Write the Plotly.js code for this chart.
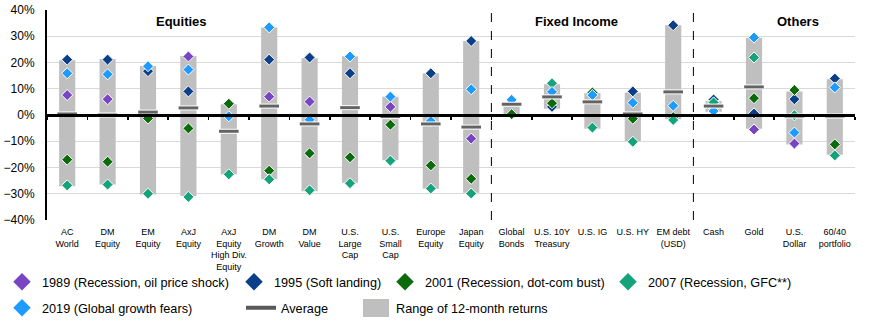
<!DOCTYPE html>
<html>
<head>
<meta charset="utf-8">
<script src="https://cdn.plot.ly/plotly-3.0.1.min.js"></script>
<style>html,body{margin:0;padding:0;background:#fff;}#chart{width:872px;height:326px;}</style>
</head>
<body>
<div id="chart"></div>
<script>
// ---- data (values in %) ----
const categories = ["AC World","DM Equity","EM Equity","AxJ Equity","AxJ Equity High Div. Equity","DM Growth","DM Value","U.S. Large Cap","U.S. Small Cap","Europe Equity","Japan Equity","Global Bonds","U.S. 10Y Treasury","U.S. IG","U.S. HY","EM debt (USD)","Cash","Gold","U.S. Dollar","60/40 portfolio"];
const tickLabels = ["AC<br>World","DM<br>Equity","EM<br>Equity","AxJ<br>Equity","AxJ<br>Equity<br>High Div.<br>Equity","DM<br>Growth","DM<br>Value","U.S.<br>Large<br>Cap","U.S.<br>Small<br>Cap","Europe<br>Equity","Japan<br>Equity","Global<br>Bonds","U.S. 10Y<br>Treasury","U.S. IG","U.S. HY","EM debt<br>(USD)","Cash","Gold","U.S.<br>Dollar","60/40<br>portfolio"];
const rangeHigh = [20.9,21.3,18.7,22.5,4.1,33.3,21.6,22.4,7.0,15.9,28.2,5.0,11.7,8.3,8.5,34.2,5.3,29.3,9.0,13.6];
const rangeLow  = [-27.1,-26.5,-30.3,-30.9,-22.6,-24.5,-29.0,-25.8,-17.2,-28.1,-29.6,0.3,2.4,-5.2,-9.9,-1.6,1.2,-5.2,-11.2,-15.1];
const average   = [0.4,0.0,1.1,2.7,-6.2,3.4,-3.4,2.8,-0.6,-3.4,-4.6,4.1,6.9,5.0,0.4,8.8,3.4,10.7,-0.4,-0.4];
const y1989 = [7.6,6.0,null,22.3,null,7.0,5.1,null,3.1,null,-9.0,null,null,null,null,null,null,-5.5,-10.9,null];
const y1995 = [21.1,21.1,16.7,9.0,null,21.1,21.9,15.9,null,15.9,28.2,null,3.1,null,9.0,34.2,5.9,0.6,6.0,13.9];
const y2001 = [-17.0,-17.8,-1.3,-5.1,4.3,-21.2,-14.6,-16.1,-3.7,-19.2,-24.3,0.3,4.5,8.6,-1.4,-0.8,4.6,6.4,9.5,-11.2];
const y2007 = [-26.8,-26.5,-30.0,-31.2,-22.6,-24.5,-28.7,-26.0,-17.4,-28.0,-29.9,null,12.1,-4.8,-10.2,-1.9,4.8,21.9,-0.1,-15.4];
const y2019 = [15.9,15.5,18.6,17.3,-0.5,33.4,-1.8,22.3,7.0,-2.3,9.8,5.8,8.8,7.6,4.7,3.5,1.5,29.5,-6.7,10.5];
const sections = ["Equities","Fixed Income","Others"];
const seriesNames = ["1989 (Recession, oil price shock)","1995 (Soft landing)","2001 (Recession, dot-com bust)","2007 (Recession, GFC**)","2019 (Global growth fears)"];

// ---- styles ----
const FONT = "Liberation Sans, Arial, sans-serif";
const colors = ["#7a45c2","#0b3f8a","#0b6b0b","#14a37b","#1e9bff"];
const seriesData = [y1989,y1995,y2001,y2007,y2019];
const legendIds = ["legend","legend2","legend3","legend4","legend5"];
const legendPos = [[2,282],[234,282],[385,282],[608,282],[2,308]];
const BAR_GRAY = "#bfbfbf", AVG_GRAY = "#636363";

const traces = [];
traces.push({
  type:"bar", x:categories, base:rangeLow,
  y:rangeHigh.map((h,i)=>h-rangeLow[i]),
  width:0.4, marker:{color:BAR_GRAY, line:{width:0}},
  name:"Range of 12-month returns", legend:"legend7", hoverinfo:"skip"
});
seriesData.forEach((d,i)=>{
  traces.push({
    type:"scatter", mode:"markers", x:categories, y:d, name:seriesNames[i], showlegend:false,
    marker:{symbol:"diamond", size:8.5, color:colors[i], line:{color:"#ffffff", width:1}}
  });
});
traces.push({
  type:"scatter", mode:"markers", x:categories, y:average, showlegend:false, hoverinfo:"skip",
  marker:{symbol:"line-ew", size:15, line:{color:"#ffffff", width:5}}
});
traces.push({
  type:"scatter", mode:"markers", x:categories, y:average, name:"Average", showlegend:false,
  marker:{symbol:"line-ew", size:14, line:{color:AVG_GRAY, width:3}}
});
// legend entries (no data drawn)
seriesNames.forEach((n,i)=>{
  traces.push({type:"scatter", mode:"markers", x:[null], y:[null], name:n, legend:legendIds[i],
    marker:{symbol:"diamond", size:13.5, color:colors[i], line:{width:0}}, hoverinfo:"skip"});
});
traces.push({type:"scatter", mode:"lines", x:[null], y:[null], name:"Average", legend:"legend6",
  line:{color:"#595959", width:4}, hoverinfo:"skip"});
// dummy trace to activate xaxis2 (zero line with boundary ticks)
traces.push({type:"scatter", x:[null], y:[null], xaxis:"x2", showlegend:false, hoverinfo:"skip"});

const layout = {
  width:872, height:326,
  margin:{l:47, r:17, t:10, b:106},
  paper_bgcolor:"#ffffff", plot_bgcolor:"#ffffff",
  font:{family:FONT, size:12, color:"#000"},
  barmode:"overlay",
  showlegend:true,
  xaxis:{
    type:"category", categoryarray:categories, range:[-0.5,19.5],
    tickvals:categories, ticktext:tickLabels, tickangle:0, ticklabelstandoff:5,
    tickfont:{size:9, color:"#000"}, showgrid:false, showline:false, ticks:"",
    zeroline:false
  },
  xaxis2:{
    overlaying:"x", anchor:"free", position:0.5, side:"bottom",
    range:[-0.5,19.5], showline:true, linecolor:"#000", linewidth:2.5,
    ticks:"outside", ticklen:3, tickwidth:1.5, tickcolor:"#000", tick0:0.5, dtick:1,
    showticklabels:false, showgrid:false, zeroline:false
  },
  yaxis:{
    range:[-40,40], dtick:10, ticksuffix:"%", showgrid:true, gridcolor:"#d9d9d9", gridwidth:1,
    zeroline:false, showline:true, linecolor:"#000", linewidth:2, ticks:"", ticklabelstandoff:8,
    tickfont:{size:12, color:"#000"}
  },
  shapes:[],
  annotations:[]
};

// section dividers
["Global Bonds","Cash"].forEach(c=>{
  const p = categories.indexOf(c) - 0.5;
  layout.shapes.push({type:"line", xref:"x", yref:"paper", x0:p, x1:p, y0:0, y1:1,
    line:{color:"#000", width:1, dash:"dash"}});
});
// larger swatch behind the range legend symbol
const toPX = px => (px-47)/808, toPY = py => (220-py)/210;
layout.shapes.push({type:"rect", xref:"paper", yref:"paper", x0:toPX(363), x1:toPX(389), y0:toPY(317), y1:toPY(299),
  fillcolor:BAR_GRAY, line:{width:0}, layer:"above"});

// section titles
const secX = [0.167, 0.655, 0.929];
sections.forEach((s,i)=>{
  layout.annotations.push({text:"<b>"+s+"</b>", xref:"paper", yref:"paper", x:secX[i], y:0.943,
    showarrow:false, xanchor:"center", yanchor:"middle", font:{size:13, color:"#000"}});
});

// legends
function mkLegend(px, py){
  return {x:px/872, y:1-py/326, xref:"container", yref:"container", xanchor:"left", yanchor:"middle",
    orientation:"h", bgcolor:"rgba(0,0,0,0)", itemsizing:"trace", font:{size:12.7, color:"#000", family:FONT},
    itemclick:false, itemdoubleclick:false};
}
legendIds.forEach((id,i)=>{ layout[id] = mkLegend(legendPos[i][0], legendPos[i][1]); });
layout.legend6 = mkLegend(241, 308);
layout.legend7 = mkLegend(356, 308);

Plotly.newPlot("chart", traces, layout, {displayModeBar:false, staticPlot:true});
</script>
</body>
</html>
